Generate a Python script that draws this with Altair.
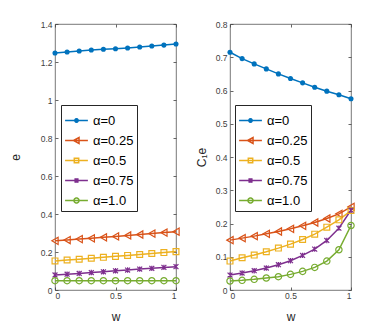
import math
import altair as alt
import pandas as pd

# ---------------- data ----------------
w = [0.0, 0.1, 0.2, 0.3, 0.4, 0.5, 0.6, 0.7, 0.8, 0.9, 1.0]
labels = ["α=0", "α=0.25", "α=0.5", "α=0.75", "α=1.0"]
colors = ["#0072BD", "#D95319", "#EDB120", "#7E2F8E", "#77AC30"]

e_a0 = [1.247, 1.253, 1.258, 1.263, 1.267, 1.270, 1.274, 1.279, 1.284, 1.289, 1.295]
e_a25 = [0.259, 0.263, 0.268, 0.272, 0.277, 0.282, 0.287, 0.292, 0.297, 0.302, 0.307]
e_a50 = [0.153, 0.158, 0.162, 0.167, 0.172, 0.177, 0.182, 0.187, 0.192, 0.197, 0.202]
e_a75 = [0.079, 0.083, 0.087, 0.092, 0.096, 0.101, 0.105, 0.110, 0.114, 0.119, 0.123]
e_a100 = [0.049, 0.049, 0.049, 0.049, 0.049, 0.049, 0.049, 0.049, 0.049, 0.049, 0.049]

c_a0 = [0.715, 0.696, 0.680, 0.665, 0.650, 0.636, 0.623, 0.610, 0.598, 0.587, 0.575]
c_a25 = [0.150, 0.156, 0.162, 0.169, 0.176, 0.184, 0.193, 0.203, 0.215, 0.229, 0.250]
c_a50 = [0.087, 0.097, 0.105, 0.115, 0.126, 0.138, 0.152, 0.168, 0.189, 0.211, 0.239]
c_a75 = [0.045, 0.051, 0.058, 0.066, 0.076, 0.088, 0.104, 0.123, 0.149, 0.186, 0.240]
c_a100 = [0.027, 0.029, 0.032, 0.036, 0.040, 0.047, 0.056, 0.068, 0.087, 0.121, 0.194]

x_ticks = [0, 0.5, 1]
e_ticks = [0, 0.2, 0.4, 0.6, 0.8, 1.0, 1.2, 1.4]
c_ticks = [0, 0.1, 0.2, 0.3, 0.4, 0.5, 0.6, 0.7, 0.8]

# ---------------- styling helpers ----------------
FONT = "Liberation Sans"
AXC = "#404040"
U = 13.5  # px per path unit for legend symbol
LEG_SIZE = 519


def poly(r_px, n=12):
    r = r_px / U
    pts = [(r * math.cos(2 * math.pi * k / n), r * math.sin(2 * math.pi * k / n)) for k in range(n)]
    return "M" + "L".join(f"{x:.3f},{y:.3f}" for x, y in pts) + "Z"


def p(x, y):
    return f"{x / U:.3f},{y / U:.3f}"


line_seg = "M-1,0L1,0"
leg_paths = [
    line_seg + poly(2.0) + poly(0.7, 6),
    line_seg + "M" + p(-3.5, 0) + "L" + p(3, -3.5) + "L" + p(3, 3.5) + "Z",
    line_seg + "M" + p(-2.6, -2.6) + "L" + p(2.6, -2.6) + "L" + p(2.6, 2.6) + "L" + p(-2.6, 2.6) + "Z",
    line_seg + "M" + p(-2.3, -2.3) + "L" + p(2.3, 2.3) + "M" + p(-2.3, 2.3) + "L" + p(2.3, -2.3)
    + "M" + p(0, -2.6) + "L" + p(0, 2.6),
    line_seg + poly(3.0, 14),
]

x_mark = "M-1,-1L1,1M-1,1L1,-1M0,-1.1L0,1.1"
pt_shapes = ["circle", "triangle-left", "square", x_mark, "circle"]
pt_sizes = [26, 52, 34, 24, 40]
pt_filled = [True, False, False, False, False]


def panel(series, ymax, yticks, ytitle, title_pad, leg_x):
    rows = []
    for lab, vals in zip(labels, series):
        for wi, v in zip(w, vals):
            rows.append({"w": wi, "val": v, "alpha": lab})
    df = pd.DataFrame(rows)
    base = alt.Chart(df)
    xs = alt.Scale(domain=[0, 1], nice=False, zero=False)
    ys = alt.Scale(domain=[0, ymax], nice=False, zero=False)

    common_axis = dict(domain=False, grid=False, tickSize=3, tickColor=AXC, tickWidth=0.8,
                       labelFont=FONT, labelFontSize=8.5, labelColor=AXC, minExtent=0,
                       titleFont=FONT, titleFontWeight="normal", titleColor="#262626")

    ax_lb = base.mark_point(opacity=0).encode(
        x=alt.X("w:Q", scale=xs, axis=alt.Axis(orient="bottom", values=x_ticks, format="~g",
                                              title="w", titleFontSize=12, offset=-3,
                                              labelPadding=1, titlePadding=12, **common_axis)),
        y=alt.Y("val:Q", scale=ys, axis=alt.Axis(orient="left", values=yticks, format="~g",
                                                title=ytitle, titleFontSize=12, offset=-3,
                                                labelPadding=3, titlePadding=title_pad,
                                                **common_axis)),
    )
    ax_tr = base.mark_point(opacity=0).encode(
        x=alt.X("w:Q", scale=xs, axis=alt.Axis(orient="top", values=x_ticks, labels=False,
                                              title=None, offset=-3, **common_axis)),
        y=alt.Y("val:Q", scale=ys, axis=alt.Axis(orient="right", values=yticks, labels=False,
                                                title=None, offset=-3, **common_axis)),
    )
    layers = [ax_lb, ax_tr]
    for i, lab in enumerate(labels):
        sub = base.transform_filter(alt.datum.alpha == lab)
        layers.append(sub.mark_line(color=colors[i], strokeWidth=1.5).encode(
            x=alt.X("w:Q", scale=xs, axis=None), y=alt.Y("val:Q", scale=ys, axis=None)))
    for i, lab in enumerate(labels):
        sub = base.transform_filter(alt.datum.alpha == lab)
        layers.append(sub.mark_point(shape=pt_shapes[i], size=pt_sizes[i], filled=pt_filled[i],
                                     color=colors[i], strokeWidth=1.2, opacity=1).encode(
            x=alt.X("w:Q", scale=xs, axis=None), y=alt.Y("val:Q", scale=ys, axis=None)))
    leg = alt.Legend(orient="none", legendX=leg_x, legendY=81, title=None,
                     fillColor="white", strokeColor="#262626", padding=3,
                     labelFont=FONT, labelFontSize=13, labelColor="#000",
                     symbolSize=LEG_SIZE, symbolStrokeWidth=1.5, labelOffset=4,
                     rowPadding=0, symbolOpacity=1)
    legend_layer = base.transform_filter("false").mark_point(filled=False).encode(
        x=alt.X("w:Q", scale=xs, axis=None),
        y=alt.Y("val:Q", scale=ys, axis=None),
        color=alt.Color("alpha:N", scale=alt.Scale(domain=labels, range=colors), legend=leg),
        shape=alt.Shape("alpha:N", scale=alt.Scale(domain=labels, range=leg_paths), legend=leg),
    )
    layers.append(legend_layer)
    return alt.layer(*layers).resolve_axis(x="independent", y="independent").properties(
        width=121, height=266)


left = panel([e_a0, e_a25, e_a50, e_a75, e_a100], 1.4, e_ticks, "e", 18, 6)
right = panel([c_a0, c_a25, c_a50, c_a75, c_a100], 0.8, c_ticks, "C₁e", 7, 5)

chart = alt.hconcat(left, right, spacing=12).resolve_scale(
    color="independent", shape="independent").properties(
    padding={"left": 0, "top": 11, "right": 0, "bottom": 0}
).configure_view(stroke="#555555", strokeWidth=0.8)

chart.save("out.html", embed_options={"renderer": "svg", "actions": False})
